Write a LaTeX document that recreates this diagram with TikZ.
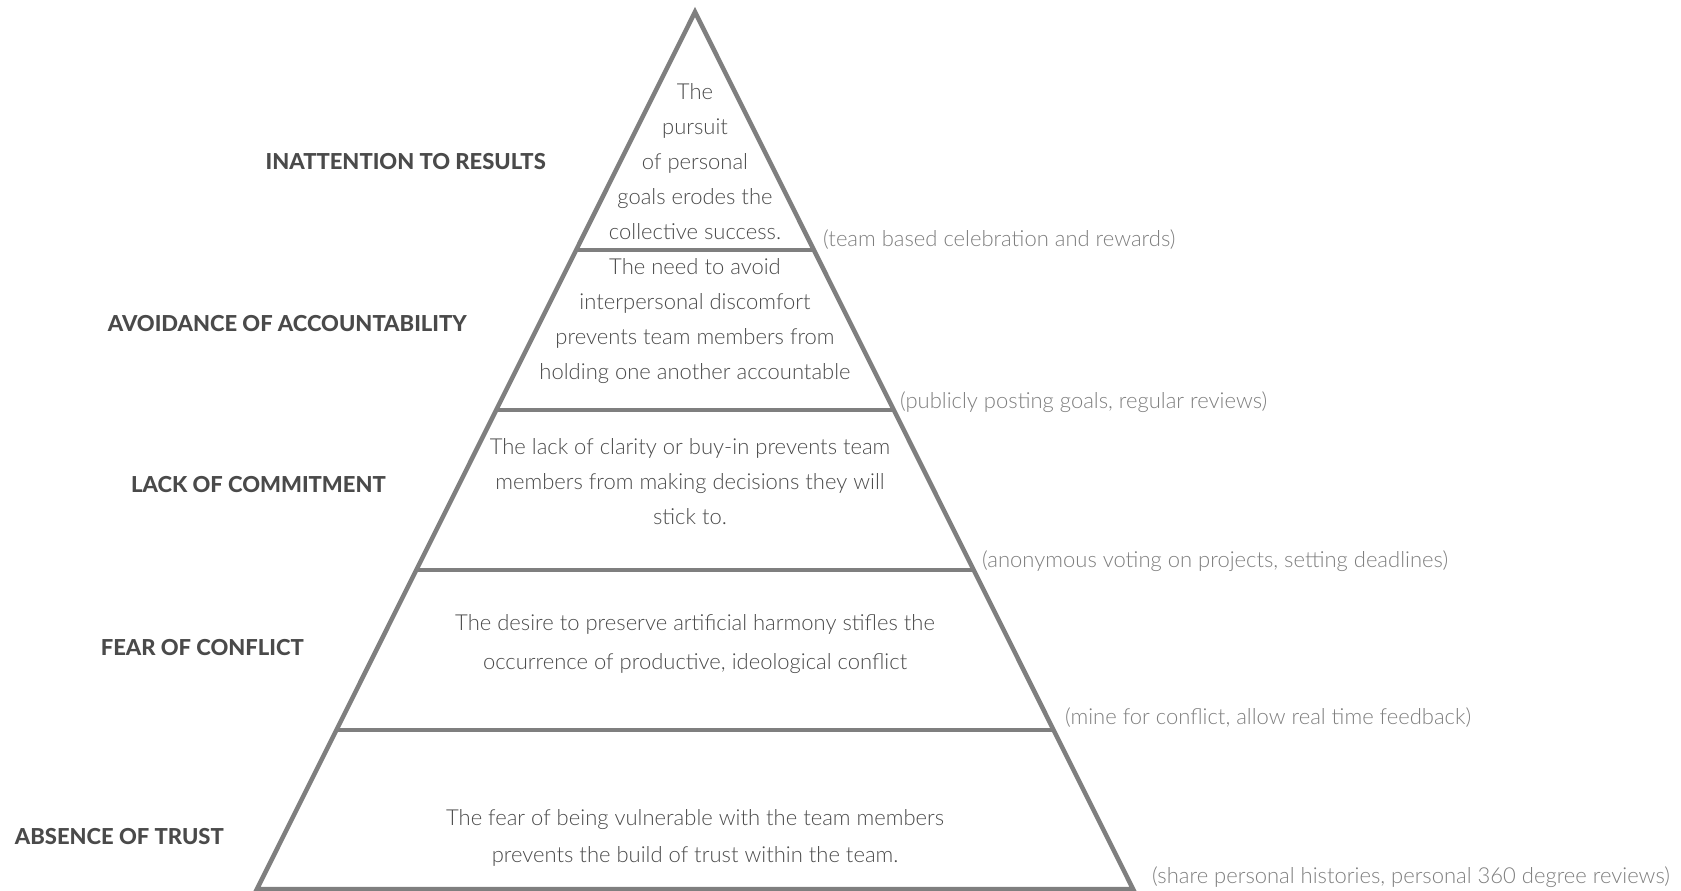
\documentclass[tikz,border=0pt]{standalone}
\usepackage{fontspec}
\setmainfont{Lato}
\newfontfamily\heavyfont{Lato Heavy}
\newfontfamily\lightfont{Lato Light}
\usetikzlibrary{calc}
\definecolor{edge}{HTML}{7F7F7F}
\definecolor{bodytext}{HTML}{4A4A4A}
\definecolor{headtext}{HTML}{4A4A4A}
\definecolor{notetext}{HTML}{7E7E7E}
\tikzset{
  pyr/.style={draw=edge, line width=4.5pt, line join=miter},
  band/.style={draw=edge, line width=4pt},
  body/.style={text=bodytext, align=center, font=\lightfont\fontsize{22}{35}\selectfont, inner sep=0pt},
  head/.style={text=headtext, anchor=east, font=\heavyfont\fontsize{22}{24}\selectfont, inner sep=0pt},
  note/.style={text=notetext, anchor=west, font=\lightfont\fontsize{22}{24}\selectfont, inner sep=0pt}
}
\begin{document}
\begin{tikzpicture}[x=1pt,y=-1pt]
\useasboundingbox (0,0) rectangle (1681,891);
\coordinate (A) at (695,12);
\coordinate (BL) at (257,889);
\coordinate (BR) at (1133,889);
\draw[pyr] (A) -- (BL) -- (BR) -- cycle;
\coordinate (L1) at ($(A)!0.2714!(BL)$); \coordinate (R1) at ($(A)!0.2714!(BR)$);
\coordinate (L2) at ($(A)!0.4538!(BL)$); \coordinate (R2) at ($(A)!0.4538!(BR)$);
\coordinate (L3) at ($(A)!0.6363!(BL)$); \coordinate (R3) at ($(A)!0.6363!(BR)$);
\coordinate (L4) at ($(A)!0.8187!(BL)$); \coordinate (R4) at ($(A)!0.8187!(BR)$);
\draw[band] (L1) -- (R1);
\draw[band] (L2) -- (R2);
\draw[band] (L3) -- (R3);
\draw[band] (L4) -- (R4);

\node[body] (t1) at (695,162) {The\\pursuit\\of personal\\goals erodes the\\collective success.};
\node[body] (t2) at (695,321) {The need to avoid\\interpersonal discomfort\\prevents team members from\\holding one another accountable};
\node[body] (t3) at (690,482) {The lack of clarity or buy-in prevents team\\members from making decisions they will\\stick to.};
\node[body, font=\lightfont\fontsize{22}{39}\selectfont] (t4) at (695,644) {The desire to preserve artificial harmony stifles the\\occurrence of productive, ideological conflict};
\node[body, font=\lightfont\fontsize{22}{37}\selectfont] (t5) at (695,838) {The fear of being vulnerable with the team members\\prevents the build of trust within the team.};

\node[head] (h1) at (546,162) {INATTENTION TO RESULTS};
\node[head] (h2) at (467,324) {AVOIDANCE OF ACCOUNTABILITY};
\node[head] (h3) at (386,485) {LACK OF COMMITMENT};
\node[head] (h4) at (304,648) {FEAR OF CONFLICT};
\node[head] (h5) at (224,837) {ABSENCE OF TRUST};

\node[note] (n1) at (823,240) {(team based celebration and rewards)};
\node[note] (n2) at (900,402) {(publicly posting goals, regular reviews)};
\node[note] (n3) at (982,561) {(anonymous voting on projects, setting deadlines)};
\node[note] (n4) at (1065,718) {(mine for conflict, allow real time feedback)};
\node[note] (n5) at (1152,877) {(share personal histories, personal 360 degree reviews)};
\end{tikzpicture}
\end{document}
